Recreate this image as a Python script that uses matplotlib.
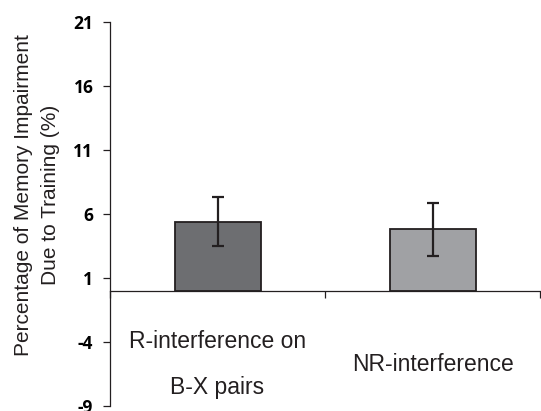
import matplotlib
matplotlib.use("Agg")
import matplotlib.pyplot as plt
import numpy as np

categories = ["R-interference on\nB-X pairs", "NR-interference"]
values = [5.4, 4.8]
errors = [1.9, 2.05]
colors = ["#6d6e71", "#a0a1a4"]
yticks = [-9, -4, 1, 6, 11, 16, 21]

W, H = 541, 411
fig = plt.figure(figsize=(W/100, H/100), dpi=100)
ax = fig.add_axes([110/W, 1-406/H, 430/W, 384/H])

x = np.arange(len(categories)) + 0.5
ax.bar(x, values, width=0.4, color=colors, edgecolor="#231f20", linewidth=1.3, zorder=2)
ax.errorbar(x, values, yerr=errors, fmt="none", ecolor="#231f20", elinewidth=1.6,
            capsize=4.5, capthick=1.6, zorder=3)

ax.set_xlim(0, 2)
ax.set_ylim(-9, 21)
ax.set_yticks(yticks)
ax.set_yticklabels([str(t) for t in yticks], fontfamily="Open Sans", fontweight="bold", fontsize=12.5)
ax.tick_params(axis="y", length=5, width=0.9, pad=7, color="#231f20")

ax.spines["top"].set_visible(False)
ax.spines["right"].set_visible(False)
ax.spines["left"].set_color("#231f20")
ax.spines["left"].set_linewidth(0.9)
ax.spines["bottom"].set_position(("data", 0))
ax.spines["bottom"].set_color("#231f20")
ax.spines["bottom"].set_linewidth(0.9)

ax.set_xticks([0, 1, 2])
ax.set_xticklabels([])
ax.tick_params(axis="x", length=5, width=0.9, direction="out", color="#231f20")

for xi, lab in zip(x, categories):
    ax.text(xi, -5.75, lab, ha="center", va="center",
            fontfamily="Liberation Sans", fontsize=16.5, linespacing=2.3, color="#231f20")

fig.text(37/W, 1-195/H, "Percentage of Memory Impairment\nDue to Training (%)",
         rotation=90, ha="center", va="center", fontfamily="Liberation Sans",
         fontsize=15, linespacing=1.5, color="#231f20")

fig.savefig("out.png", dpi=100)
